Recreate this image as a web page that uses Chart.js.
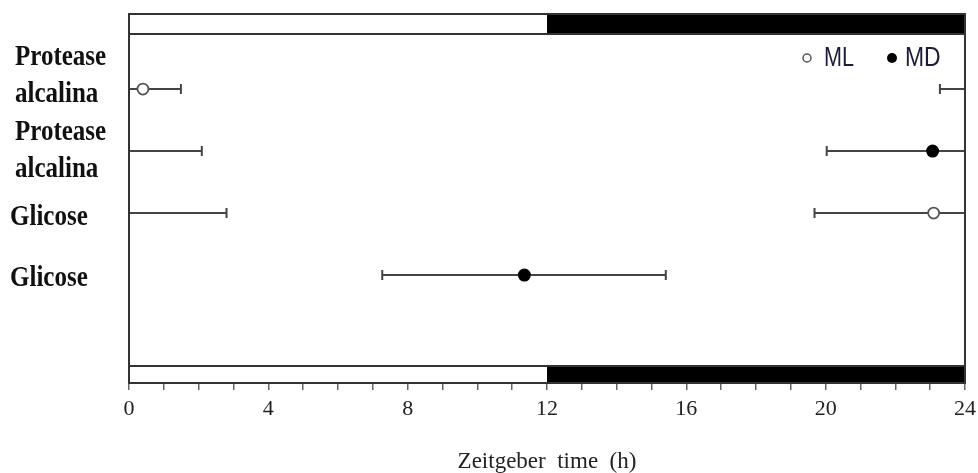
<!DOCTYPE html>
<html>
<head>
<meta charset="utf-8">
<script src="https://cdn.jsdelivr.net/npm/chart.js@4"></script>
<style>
  html, body { margin: 0; padding: 0; background: #fff; }
  #wrap { width: 978px; height: 473px; }
</style>
</head>
<body>
<div id="wrap"><canvas id="chart" width="978" height="473"></canvas></div>
<script>
// rows from top to bottom
var rowLabels = [["Protease", "alcalina"], ["Protease", "alcalina"], ["Glicose"], ["Glicose"]];
var rowGroup = ["ML", "MD", "ML", "MD"];
var acrophase = [0.40, 23.07, 23.10, 11.35];
var lowerLimit = [23.28, 20.03, 19.68, 7.27];
var upperLimit = [1.49, 2.09, 2.80, 15.41];
var xTicks = [0, 4, 8, 12, 16, 20, 24];
var lightPhase = [0, 12];
var darkPhase = [12, 24];

var rowPos = [];
for (var i = 0; i < rowLabels.length; i++) rowPos.push(i + 1);

// small vertical nudges (px) for the row labels, as in the original figure
var labelNudge = [-13, 0, 4, 3];

function pointsFor(group) {
    var pts = [];
    for (var i = 0; i < acrophase.length; i++) {
        if (rowGroup[i] == group) pts.push({ x: acrophase[i], y: rowPos[i] });
    }
    return pts;
}

var ink = "#333";
var serif = "'Liberation Serif', 'Times New Roman', serif";

// text stretched like the original (tall, narrow)
function stretchedText(ctx, text, x, y, sx, sy) {
    ctx.save();
    ctx.translate(x, y);
    ctx.scale(sx, sy);
    ctx.fillText(text, 0, 0);
    ctx.restore();
}

var framePlugin = {
    id: "frame",
    beforeDatasetsDraw: function (chart) {
        var ctx = chart.ctx;
        var xs = chart.scales.x;
        var ys = chart.scales.y;
        ctx.save();
        // error bars (wrap around 24 h when lower > upper)
        ctx.strokeStyle = "#444";
        ctx.lineWidth = 2;
        for (var i = 0; i < acrophase.length; i++) {
            var y = ys.getPixelForValue(rowPos[i]);
            var segs = [];
            if (lowerLimit[i] > upperLimit[i]) {
                segs.push([lowerLimit[i], 24, true, false]);
                segs.push([0, upperLimit[i], false, true]);
            } else {
                segs.push([lowerLimit[i], upperLimit[i], true, true]);
            }
            segs.forEach(function (s) {
                var x1 = xs.getPixelForValue(s[0]);
                var x2 = xs.getPixelForValue(s[1]);
                ctx.beginPath();
                ctx.moveTo(x1, y);
                ctx.lineTo(x2, y);
                if (s[2]) { ctx.moveTo(x1, y - 5); ctx.lineTo(x1, y + 5); }
                if (s[3]) { ctx.moveTo(x2, y - 5); ctx.lineTo(x2, y + 5); }
                ctx.stroke();
            });
        }
        ctx.restore();
    },
    afterDraw: function (chart) {
        var ctx = chart.ctx;
        var a = chart.chartArea;
        var xs = chart.scales.x;
        var ys = chart.scales.y;
        ctx.save();
        // light/dark bands top and bottom
        var bands = [[a.top, 20], [a.bottom - 17, 17]];
        bands.forEach(function (b) {
            var l1 = xs.getPixelForValue(lightPhase[0]), l2 = xs.getPixelForValue(lightPhase[1]);
            var d1 = xs.getPixelForValue(darkPhase[0]), d2 = xs.getPixelForValue(darkPhase[1]);
            ctx.fillStyle = "#fff";
            ctx.fillRect(l1, b[0], l2 - l1, b[1]);
            ctx.fillStyle = "#000";
            ctx.fillRect(d1, b[0], d2 - d1, b[1]);
            ctx.strokeStyle = ink;
            ctx.lineWidth = 2;
            ctx.strokeRect(l1, b[0], d2 - l1, b[1]);
        });
        // frame
        ctx.strokeStyle = ink;
        ctx.lineWidth = 2;
        ctx.strokeRect(a.left, a.top, a.right - a.left, a.bottom - a.top);

        // row labels
        ctx.font = "bold 25px " + serif;
        ctx.fillStyle = "#111";
        ctx.textBaseline = "middle";
        ctx.textAlign = "left";
        for (var i = 0; i < rowLabels.length; i++) {
            var lines = rowLabels[i];
            var cy = ys.getPixelForValue(rowPos[i]) + labelNudge[i];
            var gap = 37;
            var y0 = cy - (lines.length - 1) * gap / 2;
            var lx = lines.length > 1 ? 15 : 10;
            for (var k = 0; k < lines.length; k++) {
                stretchedText(ctx, lines[k], lx, y0 + k * gap, 1, 1.2);
            }
        }

        // legend
        var ly = a.top + 44;
        ctx.font = "27px 'Liberation Sans', Arial, sans-serif";
        ctx.textBaseline = "middle";
        ctx.beginPath();
        ctx.arc(807, ly, 4, 0, Math.PI * 2);
        ctx.strokeStyle = "#555";
        ctx.lineWidth = 1.5;
        ctx.stroke();
        ctx.fillStyle = "#1c1c3a";
        stretchedText(ctx, "ML", 824, ly + 1, 0.8, 1);
        ctx.beginPath();
        ctx.arc(892, ly, 5, 0, Math.PI * 2);
        ctx.fillStyle = "#000";
        ctx.fill();
        ctx.fillStyle = "#1c1c3a";
        stretchedText(ctx, "MD", 905, ly + 1, 0.85, 1);
        ctx.restore();
    }
};

var chart = new Chart(document.getElementById("chart"), {
    type: "scatter",
    data: {
        datasets: [
            {
                label: "ML",
                data: pointsFor("ML"),
                pointRadius: 5.5,
                pointBorderWidth: 1.8,
                borderColor: "#555",
                backgroundColor: "#fff"
            },
            {
                label: "MD",
                data: pointsFor("MD"),
                pointRadius: 6.5,
                pointBorderWidth: 0,
                borderColor: "#000",
                backgroundColor: "#000"
            }
        ]
    },
    plugins: [framePlugin],
    options: {
        responsive: false,
        animation: false,
        layout: { padding: { top: 14, right: 13, left: 0, bottom: 0 } },
        plugins: {
            legend: { display: false },
            tooltip: { enabled: false }
        },
        scales: {
            x: {
                type: "linear",
                min: 0,
                max: 24,
                afterBuildTicks: function (scale) {
                    var t = [];
                    for (var h = 0; h <= 24; h++) t.push({ value: h });
                    scale.ticks = t;
                },
                afterFit: function (scale) {
                    scale.height = 90;
                    scale.paddingLeft = 0;
                    scale.paddingRight = 0;
                },
                ticks: {
                    autoSkip: false,
                    maxRotation: 0,
                    padding: 6,
                    color: "#222",
                    font: { family: serif, size: 22 },
                    callback: function (v) { return xTicks.indexOf(v) >= 0 ? String(v) : ""; }
                },
                grid: {
                    drawOnChartArea: false,
                    drawTicks: true,
                    tickLength: 7,
                    color: "#666",
                    lineWidth: 1.5
                },
                border: { display: false },
                title: {
                    display: true,
                    text: "Zeitgeber  time  (h)",
                    color: "#222",
                    font: { family: serif, size: 23, lineHeight: 1.0 },
                    padding: { top: 0, bottom: 0 }
                }
            },
            y: {
                type: "linear",
                reverse: true,
                min: -0.21,
                max: 5.74,
                afterBuildTicks: function (scale) {
                    scale.ticks = rowPos.map(function (v) { return { value: v }; });
                },
                afterFit: function (scale) { scale.width = 129; },
                ticks: { display: false },
                grid: { display: false },
                border: { display: false }
            }
        }
    }
});
</script>
</body>
</html>
